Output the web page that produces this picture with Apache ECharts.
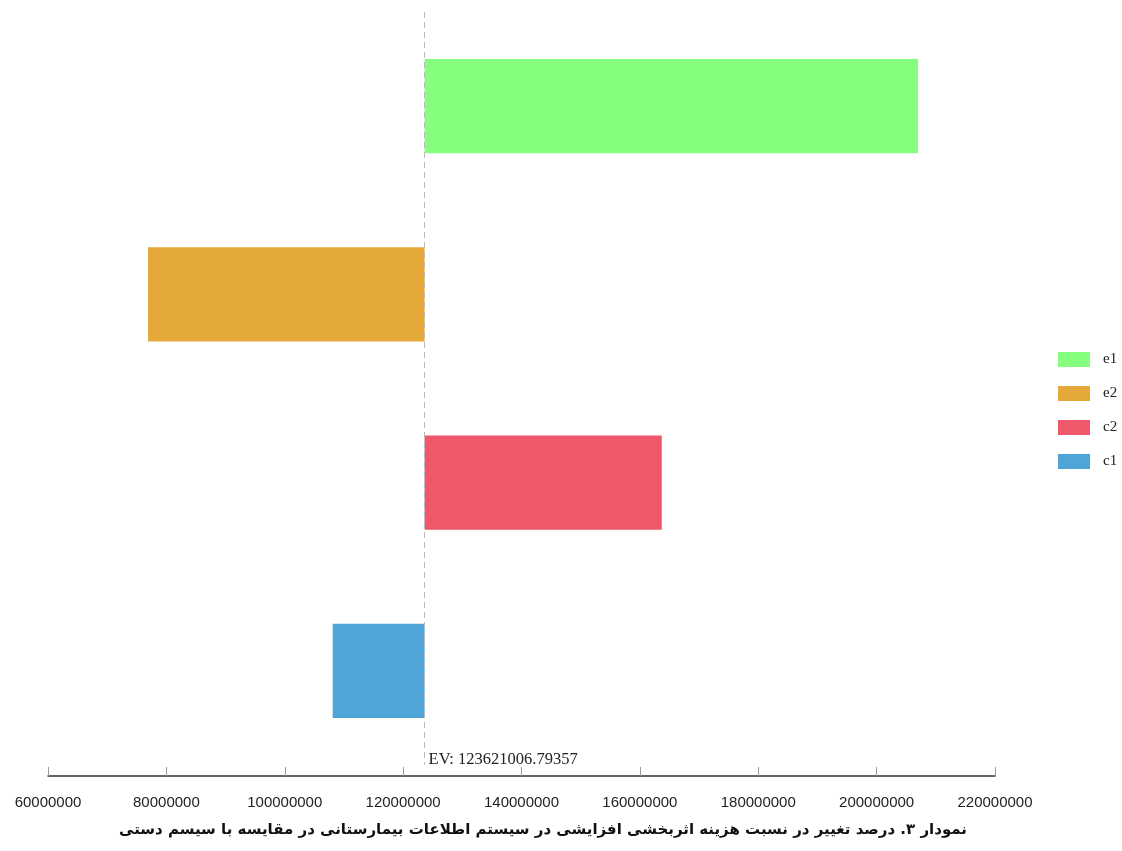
<!DOCTYPE html>
<html>
<head>
<meta charset="utf-8">
<script src="https://cdn.jsdelivr.net/npm/echarts@6/dist/echarts.min.js"></script>
<style>
html,body{margin:0;padding:0;background:#fff;}
#chart{width:1122px;height:851px;}
</style>
</head>
<body>
<div id="chart"></div>
<script>
// Data
const categories = ['e1', 'e2', 'c2', 'c1'];
const values = [207000000, 76900000, 163700000, 108100000];
const colors = ['#86FE7E', '#E4A939', '#EF586B', '#4FA4D8'];
const EV = 123621006.79357;
const xTicks = [60000000, 220000000, 20000000]; // min, max, interval
const caption = 'نمودار ۳. درصد تغییر در نسبت هزینه اثربخشی افزایشی در سیستم اطلاعات بیمارستانی در مقایسه با سیسم دستی';

const chart = echarts.init(document.getElementById('chart'));

const baseData = values.map(v => Math.min(v, EV));
const series = [{
  name: 'base',
  type: 'bar',
  stack: 'tornado',
  silent: true,
  barWidth: '50%',
  itemStyle: { color: 'transparent' },
  data: baseData
}];
categories.forEach((c, i) => {
  const d = categories.map((_, j) => j === i ? Math.abs(values[i] - EV) : '-');
  const s = {
    name: c,
    type: 'bar',
    stack: 'tornado',
    barWidth: '50%',
    itemStyle: { color: colors[i] },
    data: d
  };
  if (i === 0) {
    s.markLine = {
      silent: true,
      symbol: 'none',
      lineStyle: { color: '#bbb', type: [6, 4], width: 1 },
      label: {
        show: true,
        position: 'end',
        formatter: 'EV: ' + EV.toFixed(5),
        fontFamily: 'Liberation Serif',
        fontSize: 16.5,
        color: '#222',
        align: 'left',
        padding: [0, 0, 0, 4],
        distance: [4, -14]
      },
      data: [{ xAxis: EV }]
    };
  }
  series.push(s);
});

chart.setOption({
  animation: false,
  backgroundColor: '#fff',
  title: {
    text: caption,
    left: 114,
    top: 818,
    textStyle: { fontFamily: 'DejaVu Sans', fontWeight: 'bold', fontSize: 15, color: '#111' }
  },
  legend: {
    data: categories,
    orient: 'vertical',
    left: 1053,
    top: 347,
    itemWidth: 32,
    itemHeight: 15,
    itemGap: 19,
    icon: 'rect',
    textStyle: { fontFamily: 'Liberation Serif', fontSize: 15, color: '#222', padding: [0, 0, 0, 8] }
  },
  grid: { left: 48, right: 127, top: 12, bottom: 86, containLabel: false },
  xAxis: {
    type: 'value',
    min: xTicks[0],
    max: xTicks[1],
    interval: xTicks[2],
    offset: 11,
    splitLine: { show: false },
    axisLine: { show: true, lineStyle: { color: '#333', width: 1.5 } },
    axisTick: { show: true, inside: true, length: 9, lineStyle: { color: '#999' } },
    axisLabel: { fontFamily: 'Liberation Sans', fontSize: 15, color: '#222', margin: 19, formatter: v => String(v) }
  },
  yAxis: {
    type: 'category',
    data: categories,
    inverse: true,
    show: false
  },
  series: series
});
</script>
</body>
</html>
